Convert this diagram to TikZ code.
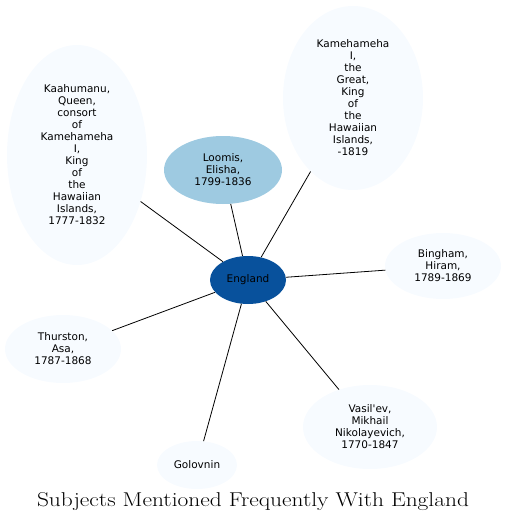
\documentclass[tikz,border=0pt]{standalone}
\usepackage{fontspec}
\usepackage{xcolor}
\usetikzlibrary{shapes.geometric}
\newfontfamily\nodefont{DejaVu Sans}
\definecolor{bluepale}{HTML}{F7FBFF}
\definecolor{bluemid}{HTML}{9ECAE1}
\definecolor{bluedeep}{HTML}{08519C}
\tikzset{
  subj/.style={ellipse,fill=bluepale,inner sep=0pt,align=center,
    font=\nodefont\fontsize{10.5}{12}\selectfont},
  link/.style={draw=black,line width=0.8pt}
}

\begin{document}
\begin{tikzpicture}[x=1pt,y=-1pt]
  \useasboundingbox (0,0) rectangle (508,525);
  \node[subj,fill=bluedeep,minimum width=76pt,minimum height=48pt] (england) at (248,280) {England};
  \node[subj,fill=bluemid,minimum width=118pt,minimum height=68pt] (loomis) at (223,170) {Loomis,\\Elisha,\\1799-1836};
  \node[subj,minimum width=140pt,minimum height=184pt] (kamehameha) at (353,98) {Kamehameha\\I,\\the\\Great,\\King\\of\\the\\Hawaiian\\Islands,\\-1819};
  \node[subj,minimum width=140pt,minimum height=220pt] (kaahumanu) at (77,155) {Kaahumanu,\\Queen,\\consort\\of\\Kamehameha\\I,\\King\\of\\the\\Hawaiian\\Islands,\\1777-1832};
  \node[subj,minimum width=116pt,minimum height=66pt] (bingham) at (443,266) {Bingham,\\Hiram,\\1789-1869};
  \node[subj,minimum width=116pt,minimum height=68pt] (thurston) at (63,349) {Thurston,\\Asa,\\1787-1868};
  \node[subj,minimum width=80pt,minimum height=48pt] (golovnin) at (197,465) {Golovnin};
  \node[subj,minimum width=134pt,minimum height=84pt] (vasilev) at (370,427) {Vasil'ev,\\Mikhail\\Nikolayevich,\\1770-1847};
  % edges from the centre node
  \foreach \other in {loomis,kamehameha,kaahumanu,bingham,thurston,golovnin,vasilev}
    \draw[link] (england) -- (\other);
  \node[font=\fontsize{20}{24}\selectfont,xscale=1.17,transform shape] (title) at (253,502) {Subjects Mentioned Frequently With England};
\end{tikzpicture}
\end{document}
